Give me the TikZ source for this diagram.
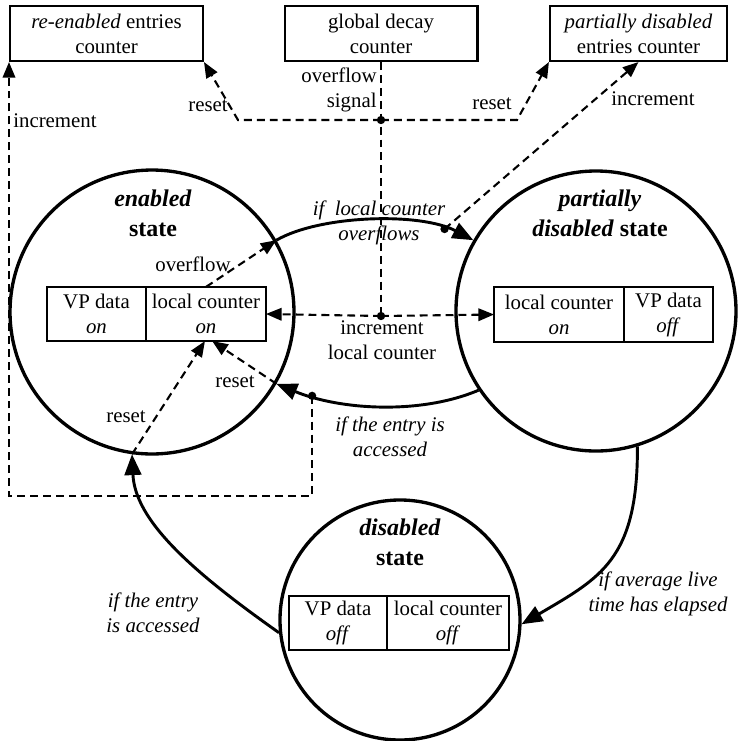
\documentclass[tikz,border=0pt]{standalone}
\usepackage{fontspec}
\setmainfont{Liberation Serif}
\usetikzlibrary{arrows.meta,positioning,calc}
\tikzset{
  statecirc/.style={circle, draw, line width=1.6pt, inner sep=0pt},
  cntbox/.style={draw, line width=1pt, align=center, inner sep=0pt, minimum height=26.4pt},
  cellbox/.style={draw, line width=1pt, align=center, inner sep=0pt, outer sep=0pt, minimum height=26pt},
  trans/.style={line width=1.4pt, -{Triangle[length=10pt,width=8pt]}},
  sig/.style={line width=1pt, dash pattern=on 3.8pt off 2.4pt},
  sigarrow/.style={sig, -{Triangle[length=7.5pt,width=6pt]}},
  lbl/.style={inner sep=0pt, align=center},
  statelbl/.style={lbl, font=\fontsize{11.5}{14.4}\selectfont\bfseries},
  dot/.style={circle, fill, inner sep=0pt, minimum size=4pt}
}

\begin{document}
\begin{tikzpicture}[x=0.48pt, y=-0.48pt]
	%%%%% START %%%%%
	\useasboundingbox (0,0) rectangle (737,741);
	
	% counters
	\node[cntbox, minimum width=92.6pt] (rec) at (106.5,33.5) {\textit{re-enabled} entries\\counter};
	\node[cntbox, minimum width=92.6pt] (gdc) at (381,33.5) {global decay\\counter};
	\node[cntbox, minimum width=85pt] (pdc) at (638.5,33.5) {\textit{partially disabled}\\entries counter};
	
	% states
	\node[statecirc, minimum size=136.3pt] (en) at (152,312) {};
	\node[statecirc, minimum size=134.4pt] (pd) at (596,311) {};
	\node[statecirc, minimum size=115.2pt] (dd) at (400,620) {};
	
	\node[statelbl] (enT) at (153,213) {\textit{enabled}\\state};
	\node[statelbl] (pdT) at (600,213.5) {\textit{partially}\\\textit{disabled} state};
	\node[statelbl] (ddT) at (400,542) {\textit{disabled}\\state};
	
	\node[cellbox, minimum width=47.5pt] (vpE) at (96.5,314) {VP data\\\textit{on}};
	\node[cellbox, minimum width=57.6pt, right=0pt of vpE] (lcE) {local counter\\\textit{on}};
	\node[cellbox, minimum width=62.4pt] (lcP) at (559,314.5) {local counter\\\textit{on}};
	\node[cellbox, minimum width=42.7pt, right=0pt of lcP] (vpP) {VP data\\\textit{off}};
	\node[cellbox, minimum width=47pt] (vpD) at (338,623) {VP data\\\textit{off}};
	\node[cellbox, minimum width=58.6pt, right=0pt of vpD] (lcD) {local counter\\\textit{off}};
	
	% transitions
	\draw[trans] (en.30) .. controls (320,215) and (420,212) .. (pd.150) coordinate[pos=0.84] (ovf);
	\draw[trans] (pd.214) .. controls (420,415) and (340,410) .. (en.-30) coordinate[pos=0.82] (acc);
	\draw[trans] (dd.186) .. controls (190,570) and (135,520) .. (en.-98);
	\draw[trans] (pd.-73) .. controls (638,560) and (600,578) .. (dd.-2);
	
	\node[lbl, font=\itshape] (ovfL) at (379,223) {if\ \ local counter\\overflows};
	\node[lbl, font=\itshape] (accL) at (390,437) {if the entry is\\accessed};
	\node[lbl, font=\itshape] (accL2) at (153,613) {if the entry\\is accessed};
	\node[lbl, font=\itshape] (liveL) at (658,594) {if average live\\time has elapsed};
	
	% signals
	\coordinate (sig) at (gdc.south |- 0,120);
	\coordinate (inc) at (gdc.south |- 0,316);
	\coordinate (sigW) at (238,120);
	\coordinate (sigE) at (517,120);
	
	\draw[sig] (gdc.south) -- (inc);
	\draw[sigarrow] (sig) -- (sigW) -- (rec.south east);
	\draw[sigarrow] (sig) -- (sigE) -- (pdc.south west);
	\draw[sigarrow] (inc) -- (lcE.east);
	\draw[sigarrow] (inc) -- (lcP.west);
	\draw[sigarrow] (ovf) -- (pdc.south);
	\draw[sigarrow] (acc) -- (acc |- 0,496) -- (rec.south west |- 0,496) -- (rec.south west);
	\draw[sigarrow] (lcE.north) -- (en.30);
	\draw[sigarrow] (en.-30) -- ([xshift=3pt]lcE.south);
	\draw[sigarrow] (en.-98) -- ([xshift=-0.5pt]lcE.south);
	
	\node[dot] (sigDot) at (sig) {};
	\node[dot] (incDot) at (inc) {};
	\node[dot] (ovfDot) at (ovf) {};
	\node[dot] (accDot) at (acc) {};
	
	\node[lbl, align=right, anchor=east] (sigL) at (377,90) {overflow\\signal};
	\node[lbl] (incL) at (382,340) {increment\\local counter};
	\node[lbl] (ovfE) at (193,264) {overflow};
	\node[lbl] (rstRec) at (208,106) {reset};
	\node[lbl] (rstPdc) at (492,104) {reset};
	\node[lbl] (incRec) at (55,121) {increment};
	\node[lbl] (incPdc) at (653,99) {increment};
	\node[lbl] (rstA) at (235,382) {reset};
	\node[lbl] (rstB) at (126,417) {reset};
	%%%%% END %%%%%
\end{tikzpicture}
\end{document}
